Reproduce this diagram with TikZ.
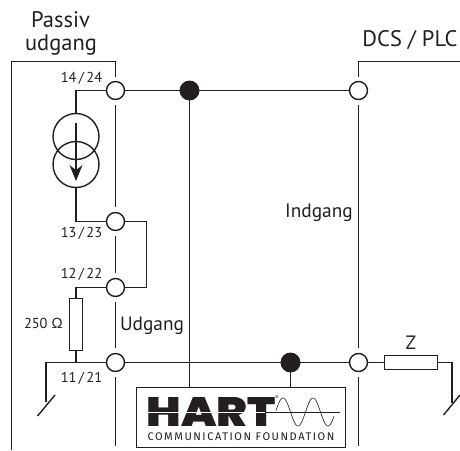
\documentclass[tikz,border=0pt]{standalone}
\usepackage{fontspec}
\setmainfont{PT Sans}
\newfontfamily\hartfont{Poppins Black}
\newfontfamily\hartsub[LetterSpace=14]{Fira Sans}
\usetikzlibrary{arrows.meta}
\definecolor{inkgray}{HTML}{231F20}
\begin{document}
\begin{tikzpicture}
  [
  x=0.02cm, y=-0.02cm, line width=0.8pt, draw=inkgray, text=inkgray,
  terminal/.style={circle, inner sep = 0pt, minimum size = 3.6mm, draw=inkgray, fill=white},
  junction/.style={circle, inner sep = 0pt, minimum size = 3.7mm, draw=inkgray, fill=inkgray},
  csource/.style={circle, inner sep = 0pt, minimum size = 9.2mm, draw=inkgray},
  resistor/.style={rectangle, inner sep = 0pt, draw=inkgray, fill=white},
  gapline/.style={shorten <=0.9mm, shorten >=0.9mm},
  pinlabel/.style={font=\fontsize{8.2}{10}\selectfont, inner sep = 0pt},
  title/.style={font=\fontsize{12.8}{15}\selectfont, inner sep = 0pt},
  sidelabel/.style={font=\fontsize{11}{13}\selectfont, inner sep = 0pt},
  ]
\useasboundingbox (0,0) rectangle (460,450);

% terminals
\foreach \t/\y in {1/90.5,2/221.5,3/287.5,4/362.5} {
  \node[terminal] (t\t) at (115.5,\y) {};
}
\node[terminal] (t5) at (358.5,90.5) {};
\node[terminal] (t6) at (358.5,362.5) {};
\node[junction] (d1) at (189.5,90.5) {};
\node[junction] (d2) at (290.5,362.5) {};

% current source and resistors
\node[csource] (s1) at (76,136.5) {};
\node[csource] (s2) at (76,164.5) {};
\node[resistor, minimum width=0.27cm, minimum height=1.05cm] (r1) at (76,324.5) {};
\node[resistor, minimum width=1.05cm, minimum height=0.28cm] (r2) at (411,362.5) {};

% free ends
\coordinate (boxl) at (11.5,61.5);
\coordinate (boxlb) at (11.5,450);
\coordinate (boxr) at (460,61.5);
\coordinate (t4b) at (115.5,450);
\coordinate (t6b) at (358.5,450);
\coordinate (sw1) at (46,402);
\coordinate (sw1a) at (55,395);
\coordinate (sw1b) at (37.5,416);
\coordinate (sw2) at (452,403);
\coordinate (sw2a) at (460,395);
\coordinate (sw2b) at (443.5,415);
\coordinate (arra) at (76,123);
\coordinate (arrb) at (76,181);

% HART box
\node[rectangle, inner sep = 0pt, draw=inkgray, line width=0.6pt, minimum width=4.18cm, minimum height=1.21cm] (logo) at (241,417.5) {};
\node[inner sep = 0pt] (hart) at (211,411.5) {\resizebox{2.58cm}{0.58cm}{\hartfont HART}};
\node[inner sep = 0pt, font=\fontsize{3}{3}\selectfont] (reg) at (277,398) {®};
\node[inner sep = 0pt, font=\fontsize{6.3}{7}\selectfont] (hartsubt) at (241,437) {\hartsub COMMUNICATION FOUNDATION};
\coordinate (wave1) at (147,412);
\coordinate (wave2) at (265,412);
\coordinate (wave3) at (340,412);
\draw[white, line width=0.4pt] (wave1) -- (wave2);
\draw[line width=0.5pt] (wave2) -- (wave3);
\draw[line width=0.35pt, domain=276:334, samples=70, smooth] plot (\x, {412-14*cos((\x-283)*12)});

% wires
\draw (t1) -- (d1) -- (t5);
\draw (t4) -- (d2) -- (t6);
\draw (d1) -- (d1 |- logo.north);
\draw (d2) -- (d2 |- logo.north);
\draw[gapline] (t1) -- (t2);
\draw[gapline] (t2) -- (t3);
\draw[gapline] (t3) -- (t4);
\draw[gapline] (t4) -- (t4b);
\draw[gapline] (t5) -- (t6);
\draw[gapline] (t6) -- (t6b);
\draw[shorten >=0.8mm] (boxlb) -- (boxl) -| (t1);
\draw[shorten >=0.8mm] (boxr) -| (t5);
\draw (t1) -| (s1);
\draw (s2) |- (t2);
\draw (t2) -| (146.5,254) |- (t3);
\draw (t3) -| (r1);
\draw (r1) |- (t4);
\draw (t4) -| (sw1);
\draw (sw1a) -- (sw1b);
\draw (t6) -- (r2);
\draw (r2) -| (sw2);
\draw (sw2a) -- (sw2b);
\draw[-{Stealth[length=3.2mm, width=2.6mm]}] (arra) -- (arrb);

% labels
\node[title] (passiv) at (60.5,20) {Passiv};
\node[title] (udgang) at (61,45) {udgang};
\node[title] (dcs) at (410,40) {DCS / PLC};
\node[sidelabel] (ind) at (319,213) {Indgang};
\node[sidelabel] (ud) at (152,326) {Udgang};
\node[sidelabel] (zlab) at (411,343) {Z};
\node[pinlabel] (p1) at (81.5,78.5) {14\,/\,24};
\node[pinlabel] (p2) at (81.5,233) {13\,/\,23};
\node[pinlabel] (p3) at (81.5,274.5) {12\,/\,22};
\node[pinlabel] (p4) at (81.5,378) {11\,/\,21};
\node[pinlabel] (ohm) at (43.5,323) {250 Ω};
\end{tikzpicture}
\end{document}
